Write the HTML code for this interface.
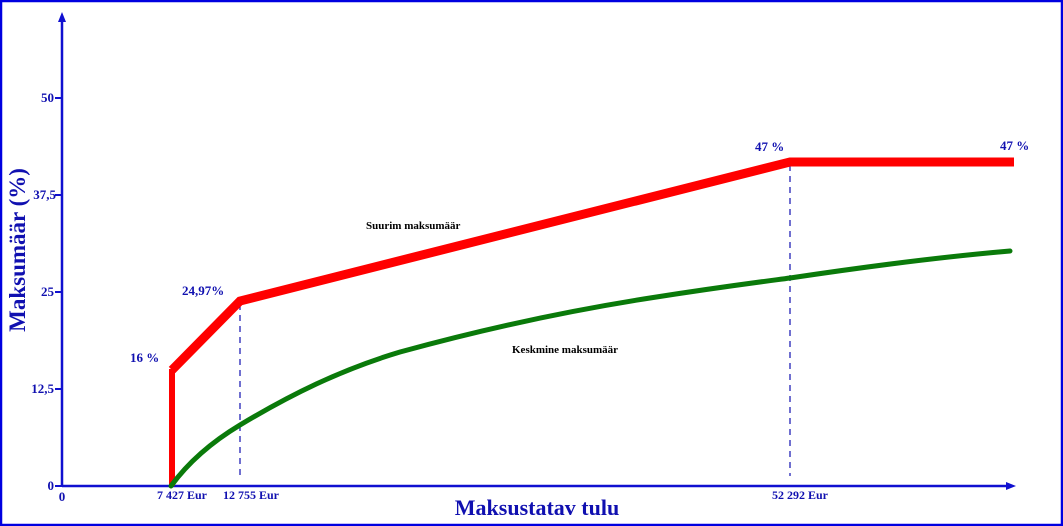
<!DOCTYPE html>
<html><head><meta charset="utf-8"><style>
html,body{margin:0;padding:0;background:#fff}
svg{display:block}
text{font-family:"Liberation Serif",serif;font-weight:bold;fill:#1010b0}
</style></head><body>
<svg width="1063" height="526" viewBox="0 0 1063 526" xmlns="http://www.w3.org/2000/svg">
<rect x="1" y="1" width="1061" height="524" fill="#fff" stroke="#0000e0" stroke-width="2.5"/>
<line x1="62" y1="486" x2="62" y2="20" stroke="#1010d0" stroke-width="2.5"/>
<polygon points="62,12 58,22 66,22" fill="#1010d0"/>
<line x1="62" y1="486" x2="1008" y2="486" stroke="#1010d0" stroke-width="2.5"/>
<polygon points="1016,486 1006,482 1006,490" fill="#1010d0"/>
<g stroke="#1010d0" stroke-width="2">
<line x1="55" y1="98" x2="62" y2="98"/><line x1="55" y1="195" x2="62" y2="195"/>
<line x1="55" y1="292" x2="62" y2="292"/><line x1="55" y1="389" x2="62" y2="389"/>
<line x1="55" y1="486" x2="62" y2="486"/>
</g>
<g font-size="13" text-anchor="end">
<text x="54" y="102">50</text><text x="56" y="199">37,5</text>
<text x="54" y="296">25</text><text x="54" y="393">12,5</text><text x="54" y="490">0</text>
</g>
<text x="62" y="501" font-size="13" text-anchor="middle">0</text>
<g stroke="#1010b0" stroke-width="1.2" stroke-dasharray="6,5">
<line x1="240" y1="304" x2="240" y2="476"/>
<line x1="790" y1="165" x2="790" y2="476"/>
</g>
<g font-size="12" text-anchor="middle">
<text x="182" y="499">7 427 Eur</text><text x="251" y="499">12 755 Eur</text><text x="800" y="499">52 292 Eur</text>
</g>
<polyline points="172,486 172,369" fill="none" stroke="#f00" stroke-width="6"/>
<polyline points="172,370 240,301 790,162 1014,162" fill="none" stroke="#f00" stroke-width="9" stroke-linejoin="miter"/>
<path d="M171,486 C190,460 215,440 240,425 C290,395 340,370 400,352 C480,330 560,312 650,298 C720,287 760,282 790,278 C870,266 940,257 1010,251" fill="none" stroke="#0a7a0a" stroke-width="5" stroke-linecap="round"/>
<g font-size="13">
<text x="130" y="362">16 %</text>
<text x="182" y="295">24,97%</text>
<text x="755" y="151">47 %</text>
<text x="1000" y="150">47 %</text>
</g>
<g font-size="11">
<text x="366" y="229" style="fill:#000">Suurim maksumäär</text>
<text x="512" y="353" style="fill:#000">Keskmine maksumäär</text>
</g>
<text x="537" y="515" font-size="22" text-anchor="middle">Maksustatav tulu</text>
<text transform="translate(25,250) rotate(-90)" font-size="23" text-anchor="middle">Maksumäär (%)</text>
</svg>
</body></html>
